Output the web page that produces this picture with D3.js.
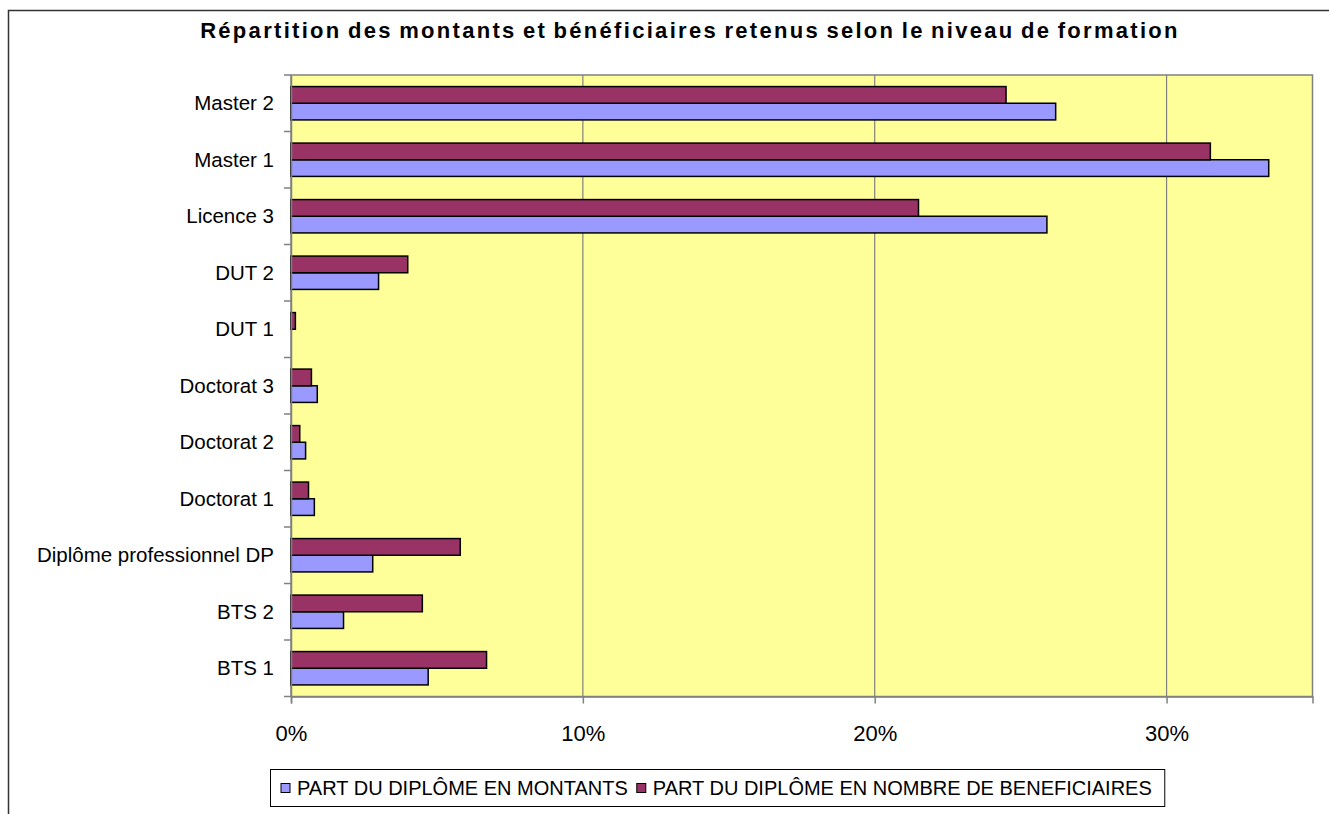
<!DOCTYPE html>
<html>
<head>
<meta charset="utf-8">
<script src="https://cdn.jsdelivr.net/npm/d3@7"></script>
<style>
  body { margin: 0; background: #fff; }
  text { font-family: "Liberation Sans", Arial, sans-serif; fill: #000; }
</style>
</head>
<body>
<div id="chart"></div>
<script>
var w = 1329;
var h = 814;

// niveaux de formation, du haut vers le bas
var categories = ["Master 2", "Master 1", "Licence 3", "DUT 2", "DUT 1", "Doctorat 3",
                  "Doctorat 2", "Doctorat 1", "Diplôme professionnel DP", "BTS 2", "BTS 1"];
var seriesNames = ["PART DU DIPLÔME EN MONTANTS", "PART DU DIPLÔME EN NOMBRE DE BENEFICIAIRES"];
var montants      = [26.2, 33.5, 25.9, 3.0, 0.0, 0.9, 0.5, 0.8, 2.8, 1.8, 4.7];
var beneficiaires = [24.5, 31.5, 21.5, 4.0, 0.15, 0.7, 0.3, 0.6, 5.8, 4.5, 6.7];
var xTicks = [0, 10, 20, 30];
var colors = ["#9999FF", "#993366"];

var svg = d3.select("#chart").append("svg")
            .attr("width", w)
            .attr("height", h);

// cadre du graphique
svg.append("rect")
   .attr("x", 8.5).attr("y", 10.5)
   .attr("width", 1400).attr("height", 900)
   .attr("fill", "none")
   .attr("stroke", "#333")
   .attr("stroke-width", 1.5);

svg.append("text")
   .attr("x", 690).attr("y", 38)
   .attr("text-anchor", "middle")
   .style("font-size", "22px")
   .style("font-weight", "bold")
   .style("letter-spacing", "2.3px")
   .style("word-spacing", "-2px")
   .text("Répartition des montants et bénéficiaires retenus selon le niveau de formation");

var pLeft = 291, pRight = 1312.5, pTop = 75, pBottom = 696.5;

var x = d3.scaleLinear().domain([0, 35]).range([pLeft, pRight]);
var y = d3.scaleBand().domain(categories).range([pTop, pBottom])
          .paddingInner(0.41).paddingOuter(0.205);
// barre "bénéficiaires" au-dessus, "montants" en dessous
var sub = d3.scaleBand().domain([1, 0]).range([0, y.bandwidth()]);

svg.append("rect")
   .attr("x", pLeft).attr("y", pTop)
   .attr("width", pRight - pLeft).attr("height", pBottom - pTop)
   .attr("fill", "#FFFF99")
   .attr("stroke", "#808080")
   .attr("stroke-width", 1.5);

svg.selectAll("line.grid")
   .data(xTicks.slice(1))
   .enter()
   .append("line")
   .attr("class", "grid")
   .attr("x1", function(d) { return x(d); })
   .attr("x2", function(d) { return x(d); })
   .attr("y1", pTop).attr("y2", pBottom)
   .attr("stroke", "#808080")
   .attr("stroke-width", 1.2);

var rows = [];
categories.forEach(function(c, i) {
  rows.push({cat: c, s: 0, v: montants[i]});
  rows.push({cat: c, s: 1, v: beneficiaires[i]});
});

svg.selectAll("rect.bar")
   .data(rows.filter(function(d) { return d.v > 0; }))
   .enter()
   .append("rect")
   .attr("class", "bar")
   .attr("x", x(0))
   .attr("y", function(d) { return y(d.cat) + sub(d.s); })
   .attr("width", function(d) { return x(d.v) - x(0); })
   .attr("height", sub.bandwidth())
   .attr("fill", function(d) { return colors[d.s]; })
   .attr("stroke", "#000")
   .attr("stroke-width", 1.5);

// axe vertical
var yAxis = svg.append("g")
   .attr("transform", "translate(" + pLeft + ",0)")
   .call(d3.axisLeft(y).tickSize(0).tickPadding(17));
yAxis.select(".domain").attr("stroke", "#808080").attr("stroke-width", 1.5);
yAxis.selectAll("text")
     .style("font-size", "20.5px")
     .style("font-family", "'Liberation Sans', Arial, sans-serif")
     .attr("dy", "0.33em");

// petits traits entre les catégories
var bounds = categories.map(function(c) { return y(c) - y.step() * 0.205; });
bounds.push(pBottom);
svg.selectAll("line.ytick")
   .data(bounds)
   .enter()
   .append("line")
   .attr("class", "ytick")
   .attr("x1", pLeft - 7).attr("x2", pLeft)
   .attr("y1", function(d) { return d; })
   .attr("y2", function(d) { return d; })
   .attr("stroke", "#808080")
   .attr("stroke-width", 1.5);

var xAxis = svg.append("g")
   .attr("transform", "translate(0," + pBottom + ")")
   .call(d3.axisBottom(x).tickValues(xTicks).tickSize(7).tickPadding(22)
           .tickFormat(function(d) { return d + "%"; }));
xAxis.select(".domain").attr("stroke", "#808080").attr("stroke-width", 1.5);
xAxis.selectAll(".tick line").attr("stroke", "#808080").attr("stroke-width", 1.5);
xAxis.selectAll("text")
     .style("font-size", "22px")
     .style("font-family", "'Liberation Sans', Arial, sans-serif")
     .attr("dy", "0.72em");

// légende
var legend = svg.append("g");
var box = legend.append("rect")
   .attr("x", 270.5).attr("y", 769.5)
   .attr("height", 37)
   .attr("fill", "#fff")
   .attr("stroke", "#000")
   .attr("stroke-width", 1);

var lx = 281;
seriesNames.forEach(function(name, i) {
  legend.append("rect")
     .attr("x", lx).attr("y", 783.5)
     .attr("width", 9).attr("height", 9)
     .attr("fill", colors[i])
     .attr("stroke", "#000")
     .attr("stroke-width", 1);
  var t = legend.append("text")
     .attr("x", lx + 16).attr("y", 795)
     .style("font-size", "20px")
     .text(name);
  lx = lx + 16 + t.node().getComputedTextLength() + 9;
});
box.attr("width", lx + 4 - 270.5);
</script>
</body>
</html>
